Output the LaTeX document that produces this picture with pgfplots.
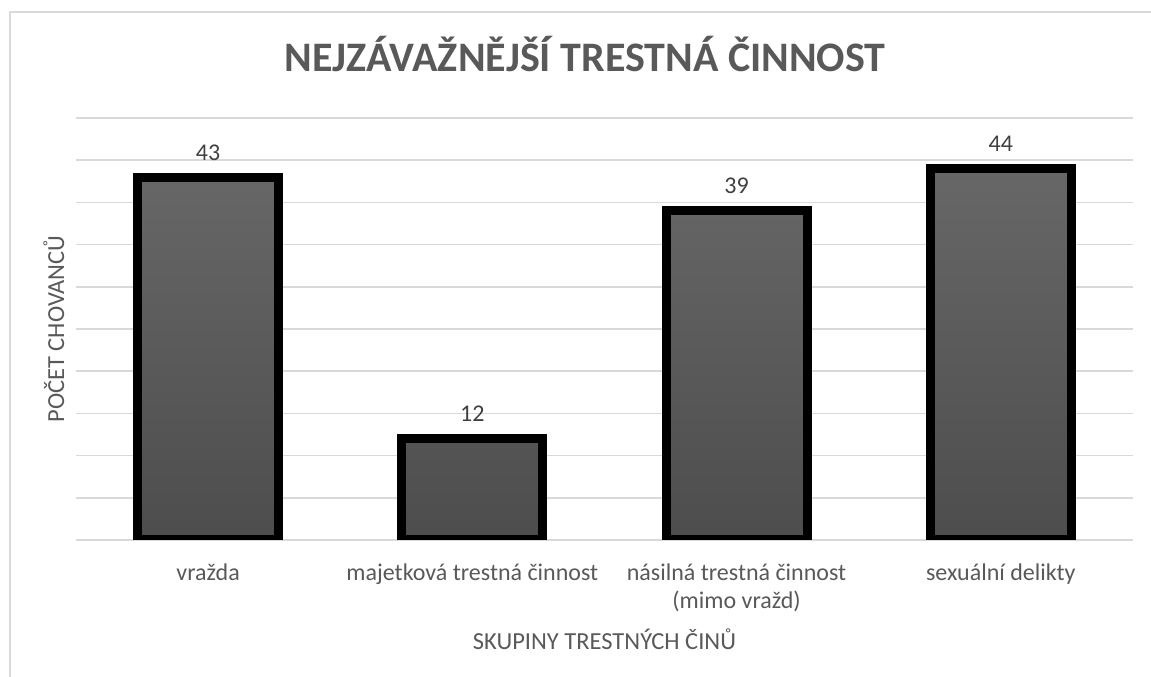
\documentclass[border=0pt]{standalone}
\usepackage{pgfplots}
\pgfplotsset{compat=1.18}
\usepackage{fontspec}
\setmainfont{Carlito}
\definecolor{txt}{HTML}{595959}
\definecolor{lbl}{HTML}{404040}
\definecolor{grd}{HTML}{D9D9D9}
\definecolor{frm}{HTML}{D9D9D9}
\definecolor{barTop}{HTML}{676767}
\definecolor{barBot}{HTML}{4D4D4D}
\begin{document}
\begin{tikzpicture}[x=1pt,y=1pt]
\path[use as bounding box] (0,0) rectangle (1151,677);
\draw[frm, line width=1.5pt] (10,0) -- (10,665) -- (1151,665);
\begin{axis}[
  at={(76pt,137pt)}, anchor=south west,
  scale only axis, width=1057pt, height=422pt,
  xmin=-0.5, xmax=3.5, ymin=0, ymax=50,
  xtick={0,1,2,3},
  xticklabels={vražda, majetková trestná činnost, {násilná trestná činnost\\(mimo vražd)}, sexuální delikty},
  xticklabel style={align=center, font=\fontsize{24}{28}\selectfont, text=txt, anchor=north, yshift=-20pt},
  ytick={0,5,...,50}, yticklabels={},
  ymajorgrids, grid style={grd, line width=1.5pt},
  major tick length=0pt,
  axis line style={draw=none},
  /pgf/number format/assume math mode=true,
  title={\bfseries NEJZÁVAŽNĚJŠÍ TRESTNÁ ČINNOST},
  title style={font=\fontsize{42}{48}\selectfont, text=txt, at={(rel axis cs:0.4816,1.137)}, anchor=center},
  xlabel={SKUPINY TRESTNÝCH ČINŮ},
  xlabel style={font=\fontsize{24.5}{28}\selectfont, text=txt, at={(rel axis cs:0.5,-0.234)}, anchor=center},
  ylabel={POČET CHOVANCŮ},
  ylabel style={font=\fontsize{24.5}{28}\selectfont, text=txt, at={(rel axis cs:-0.021,0.5)}, anchor=center, rotate=0},
  nodes near coords,
  every node near coord/.append style={font=\fontsize{24}{28}\selectfont, text=lbl, yshift=9pt},
]
\addplot[ybar, bar width=141pt, draw=black, line width=9pt, top color=barTop, bottom color=barBot]
  coordinates {(0,43) (1,12) (2,39) (3,44)};
\end{axis}
\end{tikzpicture}
\end{document}
